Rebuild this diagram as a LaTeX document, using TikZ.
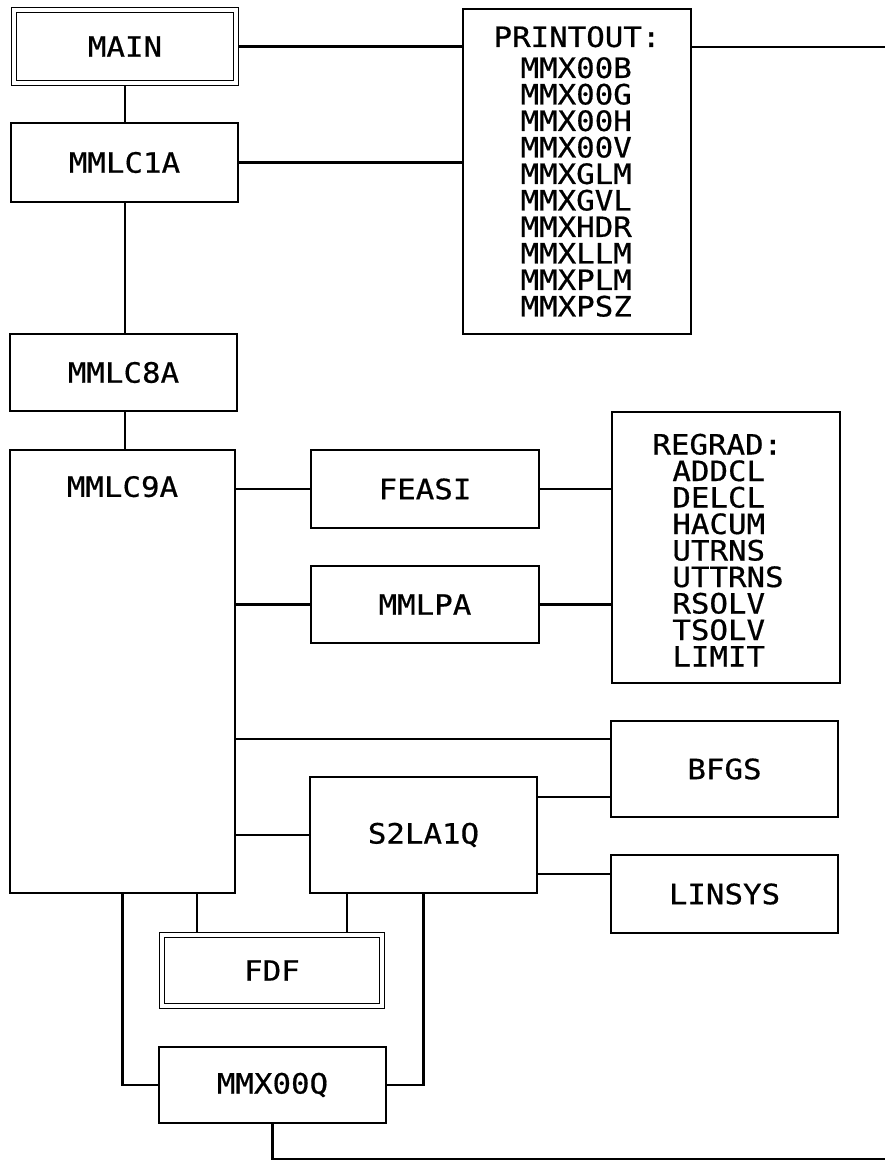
\documentclass[tikz,border=0pt]{standalone}
\usepackage{fontspec}
\newfontfamily\plotfont[FakeStretch=1.1,FakeBold=0.6]{DejaVu Sans Mono}
\usepackage{tikz}

% indent of the entries under a list heading
\newcommand{\pin}{\hspace*{13.5pt}}
\newcommand{\rin}{\hspace*{10pt}}

\begin{document}
\begin{tikzpicture}[x=0.5pt,y=-0.5pt,
  box/.style={draw,line width=1.35pt,inner sep=0pt,minimum width=114pt,
              font=\plotfont\fontsize{14}{16}\selectfont},
  dbox/.style={box,double,line width=0.65pt,double distance=1.6pt,minimum width=110pt},
  lst/.style={align=left,font=\plotfont\fontsize{14}{13.25}\selectfont},
  conn/.style={line width=1.35pt}]
\useasboundingbox (0,0) rectangle (885,1162);
% left column
\node[dbox,minimum width=111pt,minimum height=36.5pt] (main) at (125,46.5) {MAIN};
\node[box,minimum width=113.5pt,minimum height=39.5pt] (mmlc1a) at (124.5,162.5) {MMLC1A};
\node[box,minimum width=113.5pt,minimum height=38.5pt] (mmlc8a) at (123.5,372.5) {MMLC8A};
\node[box,minimum width=112.5pt,minimum height=221.5pt,
      label={[font=\plotfont\fontsize{14}{16}\selectfont,anchor=center,yshift=-19pt]north:MMLC9A}]
      (mmlc9a) at (122.5,671.5) {};
% middle column
\node[box,lst,minimum height=162.5pt] (printout) at (577,171.5)
  {PRINTOUT:\\[2.25pt]\pin MMX00B\\\pin MMX00G\\\pin MMX00H\\\pin MMX00V\\\pin MMXGLM\\
   \pin MMXGVL\\\pin MMXHDR\\\pin MMXLLM\\\pin MMXPLM\\\pin MMXPSZ};
\node[box,minimum height=39pt] (feasi) at (425,489) {FEASI};
\node[box,minimum height=38.5pt] (mmlpa) at (425,604.5) {MMLPA};
\node[box,minimum width=113.5pt,minimum height=58pt] (s2la1q) at (423.5,835) {S2LA1Q};
\node[dbox,minimum height=35.5pt] (fdf) at (272,970.5) {FDF};
\node[box,minimum width=113.5pt,minimum height=38pt] (mmx00q) at (272.5,1085) {MMX00Q};
% right column
\node[box,lst,minimum height=135.5pt] (regrad) at (726,547.5)
  {REGRAD:\rule{0pt}{13pt}\\\rin ADDCL\\\rin DELCL\\\rin HACUM\\\rin UTRNS\\
   \rin UTTRNS\rule{8pt}{0pt}\\\rin RSOLV\\\rin TSOLV\\\rin LIMIT};
\node[box,minimum width=113.5pt,minimum height=48pt] (bfgs) at (724.5,769) {BFGS};
\node[box,minimum width=113.5pt,minimum height=39pt] (linsys) at (724.5,894) {LINSYS};
% free ends and line heights
\coordinate (topend) at (885,47);
\coordinate (botend) at (885,1159);
\coordinate (ybfgs) at (0,739);
\coordinate (ys2b) at (0,797);
\coordinate (ylin) at (0,874);
\coordinate (xfa) at (197,0);
\coordinate (xfb) at (347,0);
% connections
\draw[conn,shorten <=1.4pt] (main.south) -- (main.south |- mmlc1a.north);
\draw[conn] (mmlc1a.south -| main.south) -- (mmlc8a.north -| main.south);
\draw[conn] (mmlc8a.south -| main.south) -- (mmlc9a.north -| main.south);
\draw[conn,shorten <=1.4pt] (main.east) -- (main.east -| printout.west);
\draw[conn] (mmlc1a.east) -- (mmlc1a.east -| printout.west);
\draw[conn] (printout.east |- topend) -- (topend);
\draw[conn] (feasi.west -| mmlc9a.east) -- (feasi.west);
\draw[conn] (mmlpa.west -| mmlc9a.east) -- (mmlpa.west);
\draw[conn] (feasi.east) -- (feasi.east -| regrad.west);
\draw[conn] (mmlpa.east) -- (mmlpa.east -| regrad.west);
\draw[conn] (mmlc9a.east |- ybfgs) -- (bfgs.west |- ybfgs);
\draw[conn] (s2la1q.east |- ys2b) -- (bfgs.west |- ys2b);
\draw[conn] (s2la1q.west -| mmlc9a.east) -- (s2la1q.west);
\draw[conn] (s2la1q.east |- ylin) -- (linsys.west |- ylin);
\draw[conn,shorten >=1.4pt] (mmlc9a.south -| xfa) -- (fdf.north -| xfa);
\draw[conn,shorten >=1.4pt] (s2la1q.south -| xfb) -- (fdf.north -| xfb);
\draw[conn] (mmlc9a.south) |- (mmx00q.west);
\draw[conn] (s2la1q.south) |- (mmx00q.east);
\draw[conn] (mmx00q.south) |- (botend);
\end{tikzpicture}
\end{document}
